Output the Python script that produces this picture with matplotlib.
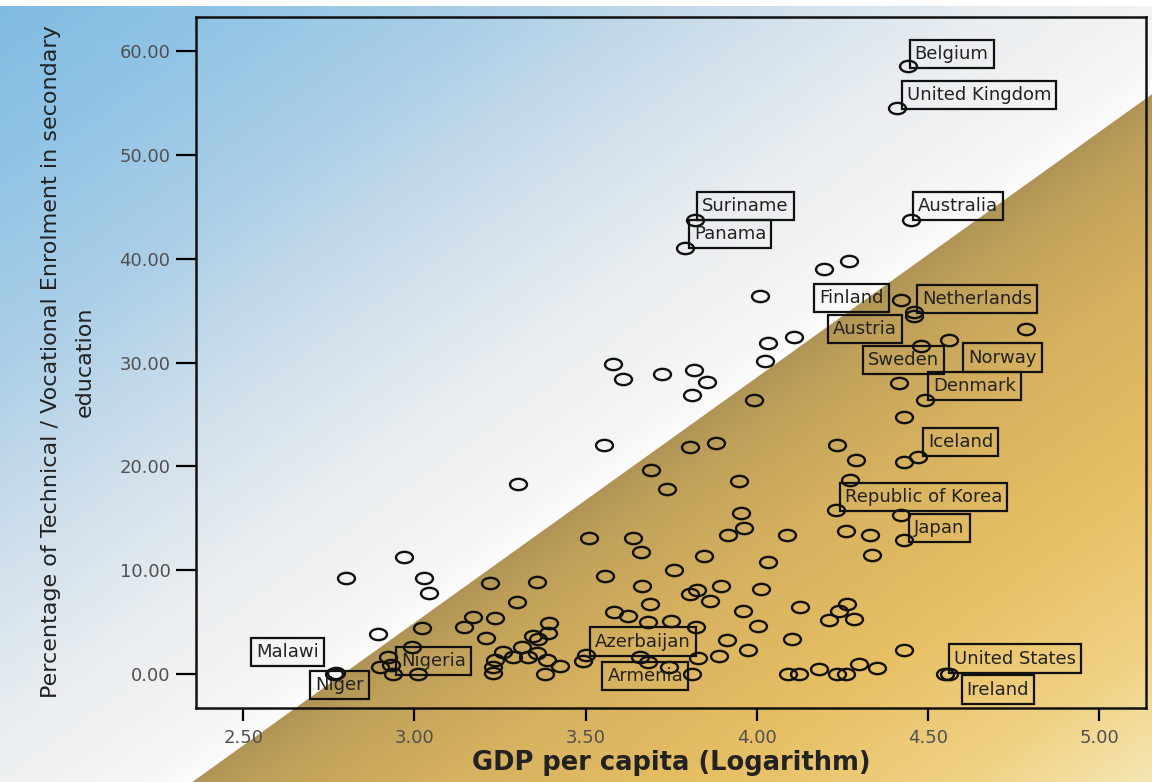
import numpy as np
import matplotlib
matplotlib.use('Agg')
import matplotlib.pyplot as plt
from matplotlib.path import Path
from matplotlib.transforms import Affine2D
from matplotlib import font_manager

# labelled countries: log GDP per capita vs % technical/vocational enrolment
label_names = ['Belgium', 'United Kingdom', 'Suriname', 'Panama', 'Australia',
               'Finland', 'Netherlands', 'Austria', 'Sweden', 'Norway',
               'Denmark', 'Iceland', 'Republic of Korea', 'Japan', 'Malawi',
               'Niger', 'Nigeria', 'Azerbaijan', 'Armenia', 'United States',
               'Ireland']
label_gdp = [4.44, 4.41, 3.82, 3.79, 4.45, 4.42, 4.46, 4.46, 4.48, 4.56,
             4.49, 4.47, 4.23, 4.43, 2.77, 2.765, 2.93, 3.50, 3.81, 4.55, 4.56]
label_tvet = [58.55, 54.54, 43.76, 41.07, 43.70, 36.0, 34.85, 34.5, 31.6, 32.2,
              26.44, 20.9, 15.78, 12.9, 0.1, 0.05, 0.87, 1.83, 0.0, 0.0, 0.0]

# the rest of the countries (unlabelled)
other_gdp = [4.196, 4.268, 4.009,
             4.785, 4.033, 4.108, 4.024, 3.817, 3.853, 3.811, 3.992,
             4.415, 4.430, 4.430, 4.290, 4.235, 3.880, 3.805, 4.272, 3.948,
             4.421, 3.953, 3.963, 3.915, 4.087, 4.260, 4.330, 4.335, 3.846, 4.033,
             3.581, 3.610, 3.722, 3.553, 3.301, 3.690, 3.737, 3.510, 3.639, 3.662, 2.970,
             2.799, 3.029, 3.041, 2.893, 3.023, 2.992, 2.922, 2.900, 2.936, 3.011,
             3.220, 3.357, 3.298, 3.170, 3.235, 3.145, 3.209, 3.394, 3.391, 3.345,
             3.362, 3.258, 3.313, 3.289, 3.332, 3.235, 3.230, 3.230, 3.357, 3.386,
             3.425, 3.381, 3.493,
             3.556, 3.664, 3.688, 3.583, 3.624, 3.683, 3.749, 3.658, 3.683, 3.758, 3.744,
             3.825, 3.804, 3.894, 3.863, 4.012, 3.958, 4.002, 4.126, 4.264, 4.241,
             4.211, 4.282, 3.912, 3.821, 3.975, 3.889, 3.829, 4.102, 4.430, 4.092,
             4.124, 4.182, 4.233, 4.260, 4.298, 4.350]
other_tvet = [39.0, 39.8, 36.45,
              33.2, 31.9, 32.5, 30.2, 29.26, 28.1, 26.85, 26.4,
              28.07, 24.77, 20.4, 20.6, 22.1, 22.3, 21.9, 18.74, 18.55,
              15.37, 15.56, 14.08, 13.44, 13.38, 13.8, 13.38, 11.45, 11.39, 10.8,
              29.9, 28.43, 28.94, 22.1, 18.35, 19.7, 17.78, 13.12, 13.12, 11.77, 11.3,
              9.21, 9.21, 7.77, 3.82, 4.46, 2.63, 1.67, 0.70, 0.0, 0.0,
              8.79, 8.89, 6.96, 5.45, 5.36, 4.55, 3.43, 4.88, 3.98, 3.66,
              3.34, 2.15, 2.57, 1.67, 1.67, 1.35, 0.71, 0.13, 1.99, 1.35,
              0.77, 0.0, 1.28,
              9.43, 8.47, 6.71, 6.0, 5.58, 5.04, 5.15, 1.64, 1.19, 10.0, 0.71,
              8.1, 7.67, 8.47, 7.03, 8.18, 6.06, 4.62, 6.48, 6.71, 6.06,
              5.2, 5.26, 3.27, 4.55, 2.31, 1.77, 1.51, 3.34, 2.31, 0.0,
              0.0, 0.48, 0.0, 0.0, 0.96, 0.61]

x_ticks = [2.5, 3.0, 3.5, 4.0, 4.5, 5.0]
y_ticks = [0, 10, 20, 30, 40, 50, 60]

# where each label box sits relative to its point (pixels) and which side it hangs from
label_offsets = [(7, 12.7), (9.5, 12.8), (7, 13.8), (9, 13.8), (7, 14.5),
                 (-17, 2.5), (7.3, 13.2), (-17.7, -13), (18, -14), (19.5, -17.7),
                 (8.7, 13.8), (10, 15.2), (9, 13), (10, 12.5), (-17, 21.3),
                 (30, -11.2), (10.3, 4), (9.3, 13.5), (-8.7, -2), (8.3, 15.5),
                 (18, -15.5)]
label_align = ['left', 'left', 'left', 'left', 'left',
               'right', 'left', 'right', 'right', 'left',
               'left', 'left', 'left', 'left', 'right',
               'right', 'left', 'left', 'right', 'left', 'left']

W, H = 1152, 782
fig = plt.figure(figsize=(W / 100, H / 100), dpi=100)

# background: blue fading to white, then a hard edge into gold
xx, yy = np.meshgrid(np.arange(W), np.arange(H))
d = (xx - 193) * 0.5825 + (yy - 780) * 0.8128
stops = [-760, -620, -450, -300, -150, -30, 0, 1, 12, 40, 150, 300, 450, 570]
reds = [128, 142, 172, 206, 234, 246, 252, 176, 180, 192, 214, 231, 240, 246]
greens = [186, 195, 207, 223, 238, 246, 252, 148, 152, 161, 177, 191, 210, 232]
blues = [225, 229, 231, 236, 240, 245, 252, 86, 86, 90, 95, 100, 132, 185]
bg_img = np.dstack([np.interp(d, stops, c) for c in (reds, greens, blues)]) / 255.0
bg_img[:6, :, :] = 1.0
bg = fig.add_axes([0, 0, 1, 1], zorder=0)
bg.imshow(bg_img, aspect='auto', interpolation='bilinear')
bg.axis('off')

ax = fig.add_axes([196 / W, (H - 708.3) / H, (1146 - 196) / W, (708.3 - 17) / H], zorder=1)
ax.patch.set_alpha(0)

# the original circles are stretched sideways
ellipse = Path.unit_circle().transformed(Affine2D().scale(1.5, 1.0))
ax.plot(other_gdp, other_tvet, linestyle='none', marker=ellipse, markersize=12.2,
        mfc='none', mec='#111111', mew=1.7)
ax.plot(label_gdp, label_tvet, linestyle='none', marker=ellipse, markersize=12.2,
        mfc='none', mec='#111111', mew=1.7)

for name, gx, gy, off, al in zip(label_names, label_gdp, label_tvet, label_offsets, label_align):
    ax.annotate(name, xy=(gx, gy), xytext=off, textcoords='offset pixels',
                ha=al, va='center', fontsize=13, color='#222222', zorder=5,
                bbox=dict(boxstyle='square,pad=0.28', fc='none', ec='#111111', lw=1.6))

ax.set_xlim(2.362, 5.136)
ax.set_ylim(-3.3, 63.3)
ax.set_xticks(x_ticks)
ax.set_yticks(y_ticks)
ax.set_xticklabels(['%.2f' % v for v in x_ticks])
ax.set_yticklabels(['%.2f' % v for v in y_ticks])
ax.tick_params(axis='x', direction='out', length=9.6, width=1.6, pad=5,
               labelsize=13, labelcolor='#505050')
ax.tick_params(axis='y', direction='out', length=14.4, width=1.6, pad=4,
               labelsize=13, labelcolor='#505050')
for sp in ax.spines.values():
    sp.set_linewidth(1.8)
    sp.set_color('#111111')

try:
    font_manager.findfont('Liberation Sans Narrow', fallback_to_default=False)
    ylab_font, ylab_size = 'Liberation Sans Narrow', 19
except ValueError:
    ylab_font, ylab_size = 'DejaVu Sans', 16

fig.text(68 / W, 1 - 362 / H,
         'Percentage of Technical / Vocational Enrolment in secondary\neducation',
         rotation=90, ha='center', va='center', fontsize=ylab_size,
         family=ylab_font, color='#222222', linespacing=1.85)
fig.text(671 / W, 1 - 763 / H, 'GDP per capita (Logarithm)', ha='center', va='center',
         fontsize=18.5, fontweight='bold', color='#222222')

fig.savefig('out.png', dpi=100)
